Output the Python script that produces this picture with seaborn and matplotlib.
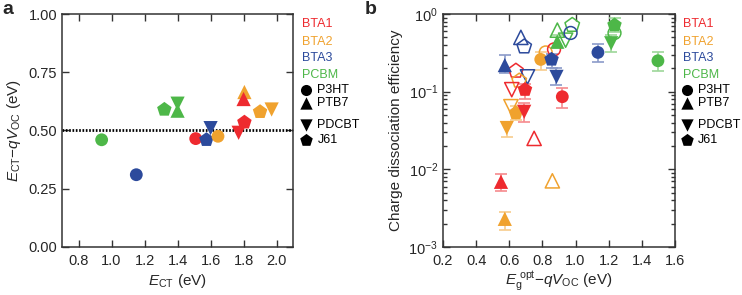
import numpy as np
import pandas as pd
import matplotlib
matplotlib.use("Agg")
import matplotlib.pyplot as plt
import matplotlib.colors as mcolors
from matplotlib.ticker import LogLocator, NullFormatter, MultipleLocator
import seaborn as sns

# ---------------- data ----------------
acceptors = ["BTA1", "BTA2", "BTA3", "PCBM"]
donors = ["P3HT", "PTB7", "PDCBT", "J61"]

# panel a
a_acc = ["PCBM", "BTA3", "PCBM", "PCBM", "PCBM", "BTA1", "BTA3", "BTA3",
         "BTA2", "BTA2", "BTA1", "BTA1", "BTA1", "BTA2", "BTA2"]
a_don = ["P3HT", "P3HT", "J61", "PTB7", "PDCBT", "P3HT", "J61", "PDCBT",
         "P3HT", "PTB7", "PTB7", "J61", "PDCBT", "J61", "PDCBT"]
a_ect = [0.94, 1.15, 1.32, 1.40, 1.40, 1.51, 1.575, 1.60,
         1.645, 1.805, 1.80, 1.805, 1.77, 1.90, 1.97]
a_loss = [0.46, 0.31, 0.59, 0.585, 0.615, 0.465, 0.46, 0.51,
          0.475, 0.665, 0.635, 0.535, 0.49, 0.58, 0.59]

# panel b, filled symbols (with error bars)
bf_acc = ["BTA3", "BTA1", "BTA2", "BTA1", "BTA2", "BTA2", "BTA3", "BTA3",
          "BTA1", "BTA3", "PCBM", "PCBM", "PCBM", "PCBM", "BTA1", "BTA2"]
bf_don = ["PTB7", "J61", "J61", "PDCBT", "PDCBT", "P3HT", "J61", "PDCBT",
          "P3HT", "P3HT", "PTB7", "J61", "PDCBT", "P3HT", "PTB7", "PTB7"]
bf_x = [0.573, 0.695, 0.64, 0.69, 0.585, 0.79, 0.855, 0.885,
        0.92, 1.135, 0.89, 1.235, 1.215, 1.497, 0.55, 0.573]
bf_y = [0.22, 0.106, 0.053, 0.055, 0.034, 0.26, 0.26, 0.155,
        0.086, 0.32, 0.44, 0.72, 0.42, 0.25, 0.0069, 0.0023]
bf_hi = [0.30, 0.125, 0.065, 0.072, 0.041, 0.32, 0.31, 0.20,
         0.112, 0.41, 0.53, 0.89, 0.54, 0.32, 0.0087, 0.0028]
bf_lo = [0.175, 0.08, 0.043, 0.041, 0.026, 0.19, 0.20, 0.12,
         0.062, 0.24, 0.37, 0.58, 0.32, 0.185, 0.0052, 0.00166]

# panel b, open symbols
bo_acc = ["BTA3", "BTA3", "BTA1", "BTA3", "BTA2", "BTA1", "BTA2", "BTA1",
          "BTA2", "BTA1", "PCBM", "PCBM", "PCBM", "BTA3", "PCBM", "BTA2"]
bo_don = ["PTB7", "J61", "J61", "PDCBT", "J61", "PDCBT", "PDCBT", "PTB7",
          "P3HT", "P3HT", "PTB7", "PDCBT", "J61", "P3HT", "P3HT", "PTB7"]
bo_x = [0.67, 0.69, 0.64, 0.71, 0.66, 0.615, 0.61, 0.75,
        0.82, 0.87, 0.89, 0.94, 0.98, 0.97, 1.235, 0.86]
bo_y = [0.50, 0.38, 0.185, 0.155, 0.138, 0.106, 0.064, 0.025,
        0.32, 0.35, 0.62, 0.46, 0.72, 0.57, 0.57, 0.0071]

# ---------------- style ----------------
sns.set_theme(style="ticks")
plt.rcParams["font.family"] = ["Liberation Sans", "DejaVu Sans"]
plt.rcParams["mathtext.fontset"] = "custom"
plt.rcParams["mathtext.rm"] = "Liberation Sans"
plt.rcParams["mathtext.it"] = "Liberation Sans:italic"
plt.rcParams["mathtext.bf"] = "Liberation Sans:bold"

palette = {"BTA1": "#EE2A2F", "BTA2": "#F0A22E", "BTA3": "#2C4A9C", "PCBM": "#4DB748"}
markers = {"P3HT": "o", "PTB7": "^", "PDCBT": "v", "J61": "p"}
msizes = {"P3HT": 85, "PTB7": 105, "PDCBT": 105, "J61": 120}
light = {k: tuple(0.55 * np.array(mcolors.to_rgb(v)) + 0.45) for k, v in palette.items()}

fig = plt.figure(figsize=(7.42, 2.95), dpi=100)
axA = fig.add_axes([0.0836, 0.163, 0.3114, 0.7895])
axB = fig.add_axes([0.597, 0.163, 0.3127, 0.7895])

spine_col = "#333333"
for ax in (axA, axB):
    for s in ax.spines.values():
        s.set_color(spine_col)
        s.set_linewidth(1.1)
    ax.tick_params(direction="in", which="both", top=True, right=True,
                   labelsize=10.5, color=spine_col, width=1.0)
    ax.tick_params(which="major", length=5)
    ax.tick_params(which="minor", length=3)
    ax.tick_params(axis="x", pad=5)

# ---------------- panel a ----------------
dfa = pd.DataFrame({"acc": a_acc, "don": a_don, "x": a_ect, "y": a_loss})
axA.axhline(0.5, color="black", lw=2.0, linestyle=(0, (0.6, 0.6)), zorder=1)
sns.scatterplot(data=dfa, x="x", y="y", hue="acc", style="don", size="don",
                palette=palette, markers=markers, sizes=msizes,
                linewidth=0, legend=False, ax=axA, zorder=3)
axA.set_xlim(0.7, 2.1)
axA.set_ylim(0, 1.0)
axA.xaxis.set_major_locator(MultipleLocator(0.2))
axA.yaxis.set_major_locator(MultipleLocator(0.25))
axA.set_xticklabels([f"{t:.1f}" for t in axA.get_xticks()])
axA.set_yticklabels([f"{t:.2f}" for t in axA.get_yticks()])
axA.set_xlim(0.7, 2.1)
axA.set_ylim(0, 1.0)
axA.set_xlabel(r"$E_{\mathrm{CT}}$ (eV)", fontsize=11, labelpad=3)
axA.set_ylabel(r"$E_{\mathrm{CT}}$−$qV_{\mathrm{OC}}$ (eV)", fontsize=11)

# ---------------- panel b ----------------
dff = pd.DataFrame({"acc": bf_acc, "don": bf_don, "x": bf_x, "y": bf_y,
                    "hi": bf_hi, "lo": bf_lo})
dfo = pd.DataFrame({"acc": bo_acc, "don": bo_don, "x": bo_x, "y": bo_y})

for acc, g in dff.groupby("acc"):
    axB.errorbar(g["x"], g["y"], yerr=[g["y"] - g["lo"], g["hi"] - g["y"]],
                 fmt="none", ecolor=light[acc], elinewidth=1.2, capsize=4.5,
                 capthick=1.2, zorder=2)

sns.scatterplot(data=dfo, x="x", y="y", hue="acc", style="don", size="don",
                palette=palette, markers=markers, sizes=msizes,
                legend=False, ax=axB, zorder=3)
coll = axB.collections[-1]
fc = coll.get_facecolors()
coll.set_edgecolors(fc)
coll.set_facecolors("none")
coll.set_linewidth(1.1)

sns.scatterplot(data=dff, x="x", y="y", hue="acc", style="don", size="don",
                palette=palette, markers=markers, sizes=msizes,
                linewidth=0, legend=False, ax=axB, zorder=4)

axB.set_yscale("log")
axB.set_ylim(1e-3, 1)
axB.set_xlim(0.2, 1.6)
axB.xaxis.set_major_locator(MultipleLocator(0.2))
axB.set_xticklabels([f"{t:.1f}" for t in axB.get_xticks()])
axB.set_xlim(0.2, 1.6)
axB.yaxis.set_major_locator(LogLocator(base=10, numticks=10))
axB.yaxis.set_minor_locator(LogLocator(base=10, subs=np.arange(2, 10), numticks=10))
axB.yaxis.set_minor_formatter(NullFormatter())
axB.set_xlabel(r"$E_{\mathrm{g}}^{\ \mathrm{opt}}$−$qV_{\mathrm{OC}}$ (eV)", fontsize=11, labelpad=1)
axB.set_ylabel("Charge dissociation efficiency", fontsize=11)

# ---------------- legends (text + symbols) ----------------
ys_acc = [0.957, 0.880, 0.811, 0.738]
ys_don = [0.674, 0.618, 0.524, 0.459]
for ax, xt, xm, xd in ((axA, 1.039, 1.058, 1.105), (axB, 1.034, 1.053, 1.100)):
    for name, yy in zip(acceptors, ys_acc):
        ax.text(xt, yy, name, color=palette[name], fontsize=9,
                transform=ax.transAxes, va="center", ha="left")
    for name, yy in zip(donors, ys_don):
        ax.scatter([xm], [yy], marker=markers[name], s=msizes[name] * 0.75,
                   color="black", transform=ax.transAxes, clip_on=False, linewidth=0)
        ax.text(xd, yy, name, color="black", fontsize=9,
                transform=ax.transAxes, va="center", ha="left")

fig.text(0.003, 0.968, "a", fontsize=14, fontweight="bold", va="center")
fig.text(0.492, 0.968, "b", fontsize=14, fontweight="bold", va="center")

fig.savefig("out.png", dpi=100)
